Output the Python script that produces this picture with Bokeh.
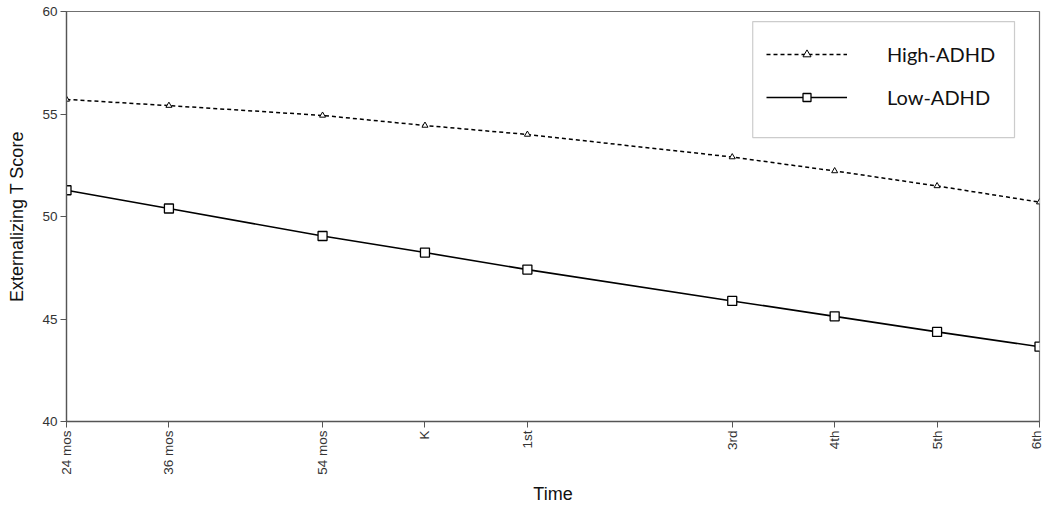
import math
from bokeh.plotting import figure
from bokeh.models import Range1d, FixedTicker, Legend, LegendItem, BoxAnnotation
from bokeh.embed import file_html
from bokeh.resources import INLINE

# Data
tick_labels = ["24 mos", "36 mos", "54 mos", "K", "1st", "3rd", "4th", "5th", "6th"]
time_years = [2.0, 3.0, 4.5, 5.5, 6.5, 8.5, 9.5, 10.5, 11.5]
high_adhd = [55.71, 55.41, 54.93, 54.44, 54.00, 52.90, 52.22, 51.49, 50.70]
low_adhd = [51.28, 50.39, 49.05, 48.24, 47.41, 45.88, 45.13, 44.37, 43.65]

W, H = 1043, 500
p = figure(width=W, height=H, output_backend="svg", toolbar_location=None,
           x_range=Range1d(2.0, 11.5), y_range=Range1d(40, 60),
           min_border_left=66, min_border_right=4, min_border_top=11, min_border_bottom=79)
p.frame_width = 973
p.frame_height = 410

p.xgrid.visible = False
p.ygrid.visible = False
p.outline_line_color = "#707070"
p.outline_line_width = 1.2
p.background_fill_color = "white"
p.border_fill_color = "white"

FONT = "Liberation Sans"
p.xaxis.ticker = FixedTicker(ticks=time_years)
p.xaxis.major_label_overrides = {t: l for t, l in zip(time_years, tick_labels)}
p.xaxis.major_label_orientation = math.pi / 2
p.yaxis.ticker = FixedTicker(ticks=[40, 45, 50, 55, 60])
for ax in (p.xaxis[0], p.yaxis[0]):
    ax.axis_line_color = "#555555"
    ax.axis_line_width = 1.3
    ax.major_tick_line_color = "#555555"
    ax.major_tick_out = 6
    ax.major_tick_in = 0
    ax.minor_tick_line_color = None
    ax.major_label_text_font = FONT
    ax.major_label_text_font_size = "13.5px"
    ax.major_label_text_color = "#333333"
    ax.axis_label_text_font = FONT
    ax.axis_label_text_font_size = "18px"
    ax.axis_label_text_font_style = "normal"
    ax.axis_label_text_color = "#111111"
    ax.major_label_standoff = 3
p.xaxis.axis_label = "Time"
p.yaxis.axis_label = "Externalizing T Score"
p.xaxis.axis_label_standoff = 6
p.yaxis.axis_label_standoff = 12

hl = p.line(time_years, high_adhd, line_color="black", line_width=1.5, line_dash="4 3")
hs = p.scatter(time_years, high_adhd, marker="triangle", size=6, fill_color="white",
               line_color="black", line_width=1)
ll = p.line(time_years, low_adhd, line_color="black", line_width=1.6)
ls = p.scatter(time_years, low_adhd, marker="square", size=9, fill_color="white",
               line_color="black", line_width=1.3)

# legend frame box
box = BoxAnnotation(left=8.70, right=11.256, top=59.51, bottom=53.85,
                    fill_color=None, line_color="#555555", line_width=1.2)
p.add_layout(box)

legend = Legend(items=[LegendItem(label="High-ADHD", renderers=[hl, hs]),
                       LegendItem(label="Low-ADHD", renderers=[ll, ls])],
                location=(700, 312), orientation="vertical")
legend.border_line_color = None
legend.background_fill_alpha = 0
legend.padding = 10
legend.spacing = 19
legend.glyph_width = 81
legend.glyph_height = 20
legend.label_height = 20
legend.label_standoff = 40
legend.label_text_font = "Lato"
legend.label_text_font_size = "20px"
legend.label_text_color = "#111111"
p.add_layout(legend, "center")

open("out.html", "w").write(file_html(p, INLINE))
